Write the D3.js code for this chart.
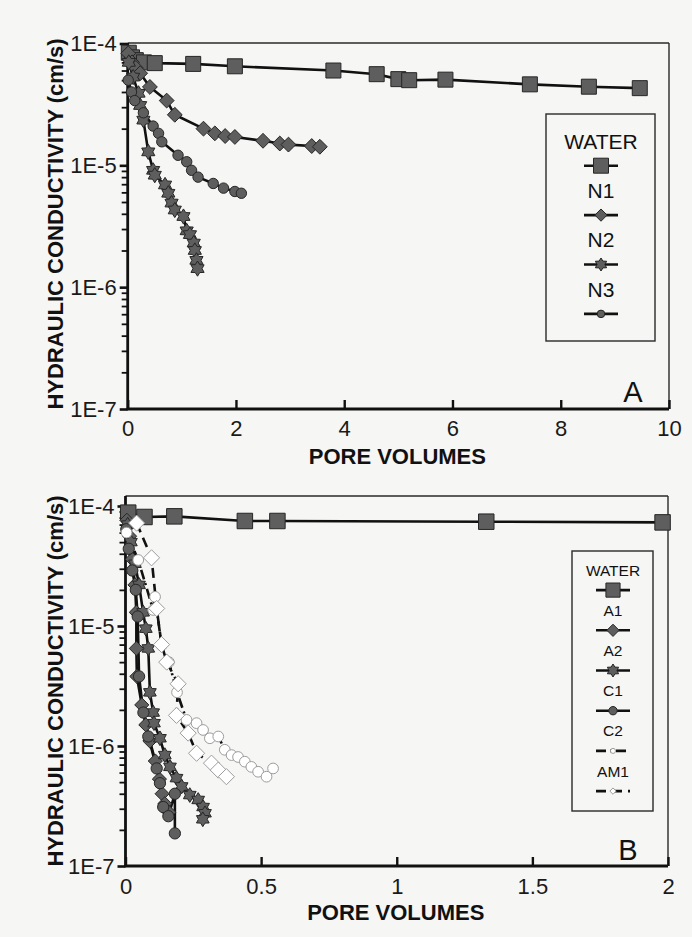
<!DOCTYPE html>
<html>
<head>
<meta charset="utf-8">
<script src="https://cdn.jsdelivr.net/npm/d3@7"></script>
<style>
  html, body { margin: 0; padding: 0; background: #f6f6f4; }
  svg { display: block; font-family: "Liberation Sans", Arial, Helvetica, sans-serif; }
</style>
</head>
<body>
<svg id="chart" width="692" height="937"></svg>
<script>
// ---- Panel A: hydraulic conductivity (cm/s) vs pore volumes ----
const waterA = [[0.02,8.4e-5],[0.08,7.7e-5],[0.15,7.3e-5],[0.3,7.0e-5],[0.5,6.9e-5],[1.21,6.8e-5],[1.98,6.5e-5],
                [3.8,6.0e-5],[4.6,5.6e-5],[5.0,5.1e-5],[5.2,5.0e-5],[5.87,5.05e-5],[7.43,4.62e-5],[8.52,4.42e-5],[9.46,4.3e-5]];
const n1A = [[0.01,8.3e-5],[0.08,7.0e-5],[0.15,6.3e-5],[0.23,5.7e-5],[0.41,4.4e-5],[0.72,3.4e-5],[0.87,2.6e-5],
             [1.40,2.0e-5],[1.61,1.83e-5],[1.80,1.74e-5],[1.98,1.71e-5],[2.50,1.59e-5],[2.81,1.51e-5],[2.97,1.48e-5],
             [3.40,1.44e-5],[3.55,1.42e-5]];
const n2A = [[0.02,7.0e-5],[0.10,5.3e-5],[0.20,3.9e-5],[0.23,3.1e-5],[0.29,2.35e-5],[0.38,1.29e-5],[0.47,9.1e-6],
             [0.50,8.3e-6],[0.69,6.9e-6],[0.75,5.9e-6],[0.81,4.9e-6],[0.87,4.3e-6],[1.03,3.8e-6],[1.09,2.9e-6],
             [1.15,2.7e-6],[1.22,2.3e-6],[1.24,2.0e-6],[1.27,1.66e-6],[1.29,1.42e-6]];
const n3A = [[0.01,5.0e-5],[0.07,4.0e-5],[0.13,3.4e-5],[0.29,2.7e-5],[0.47,2.1e-5],[0.57,1.83e-5],[0.63,1.56e-5],
             [0.93,1.21e-5],[1.09,1.07e-5],[1.18,9.1e-6],[1.30,8.0e-6],[1.58,7.1e-6],[1.77,6.5e-6],[1.98,6.1e-6],[2.10,5.9e-6]];

// ---- Panel B ----
const waterB = [[0.01,8.8e-5],[0.07,8.1e-5],[0.18,8.2e-5],[0.44,7.5e-5],[0.56,7.5e-5],[1.33,7.4e-5],[1.98,7.3e-5]];
const a1B = [[0.005,7.6e-5],[0.015,5.6e-5],[0.025,3.6e-5],[0.035,2.2e-5],[0.04,1.3e-5],[0.04,6.5e-6],[0.042,3.8e-6],
             [0.06,2.2e-6],[0.075,1.5e-6],[0.09,1.1e-6],[0.11,7.5e-7],[0.125,5.3e-7],[0.135,4.0e-7],[0.145,3.3e-7],[0.16,2.8e-7]];
const a2B = [[0.008,7.0e-5],[0.02,5.0e-5],[0.035,3.3e-5],[0.05,2.2e-5],[0.065,1.3e-5],[0.075,9.5e-6],[0.084,6.5e-6],
             [0.09,2.8e-6],[0.102,1.9e-6],[0.105,1.55e-6],[0.127,1.16e-6],[0.145,8.4e-7],[0.164,6.7e-7],[0.188,5.4e-7],
             [0.207,4.6e-7],[0.237,3.9e-7],[0.268,3.55e-7],[0.286,3.1e-7],[0.293,2.75e-7],[0.285,2.45e-7]];
const c1B = [[0.003,6.4e-5],[0.012,4.4e-5],[0.025,2.9e-5],[0.038,2.0e-5],[0.045,1.2e-5],[0.05,3.8e-6],[0.066,1.9e-6],
             [0.084,1.2e-6],[0.115,6.5e-7],[0.127,4.9e-7],[0.139,3.1e-7],[0.158,2.6e-7],[0.182,4.0e-7],[0.182,1.87e-7]];
const c2B = [[0.004,6.0e-5],[0.047,3.55e-5],[0.102,1.36e-5],[0.109,1.75e-5],[0.133,6.9e-6],[0.16,5.0e-6],[0.19,2.8e-6],
             [0.225,1.65e-6],[0.262,1.55e-6],[0.286,1.36e-6],[0.311,1.16e-6],[0.342,1.2e-6],[0.366,9.3e-7],[0.391,8.4e-7],
             [0.415,8.1e-7],[0.44,7.4e-7],[0.464,6.7e-7],[0.489,6.1e-7],[0.52,5.55e-7],[0.544,6.5e-7]];
const am1B = [[0.041,7.2e-5],[0.096,3.7e-5],[0.115,1.4e-5],[0.133,7.0e-6],[0.152,5.0e-6],[0.194,3.3e-6],[0.188,1.8e-6],
              [0.231,1.28e-6],[0.262,8.7e-7],[0.317,7.2e-7],[0.342,6.3e-7],[0.372,5.55e-7]];

// ---- Axis ticks and labels ----
const yTickValues = [1e-7, 1e-6, 1e-5, 1e-4];
const yTickLabels = ["1E-7", "1E-6", "1E-5", "1E-4"];
const xTicksA = [0, 2, 4, 6, 8, 10];
const xTicksB = [0, 0.5, 1, 1.5, 2];
const legendA = ["WATER", "N1", "N2", "N3"];
const legendB = ["WATER", "A1", "A2", "C1", "C2", "AM1"];
const yTitle = "HYDRAULIC CONDUCTIVITY (cm/s)";
const xTitle = "PORE VOLUMES";

// ---- Marker shapes ----
const diamondType = { draw(ctx, size) { const r = Math.sqrt(size / 2);
  ctx.moveTo(0, -r); ctx.lineTo(r, 0); ctx.lineTo(0, r); ctx.lineTo(-r, 0); ctx.closePath(); } };
const starType = { draw(ctx, size) { const r = Math.sqrt(size) * 0.62, ri = r * 0.6;
  for (let i = 0; i < 12; i++) { const a = Math.PI / 6 * i - Math.PI / 2, rr = i % 2 ? ri : r;
    const px = rr * Math.cos(a), py = rr * Math.sin(a); i ? ctx.lineTo(px, py) : ctx.moveTo(px, py); }
  ctx.closePath(); } };

const DARK = { fill: "#5e5e5e", stroke: "#262626" };
const OPEN = { fill: "#ffffff", stroke: "#9c9c9c" };

const svg = d3.select("#chart");
const minorVals = [];
for (let e = -7; e < -4; e++) for (let m = 2; m <= 9; m++) minorVals.push(m * Math.pow(10, e));

function drawPanel(p) {
  const g = svg.append("g");
  const x = d3.scaleLinear().domain([0, p.xMax]).range([p.x0, p.x1]);
  const y = d3.scaleLog().domain([1e-7, 1e-4]).range([p.yBot, p.yTop]);

  // frame: heavy left/bottom axes, light top/right
  g.append("line").attr("x1", p.x0).attr("x2", p.x1).attr("y1", p.frameTop).attr("y2", p.frameTop)
    .attr("stroke", "#2a2a2a").attr("stroke-width", 1.4);
  g.append("line").attr("x1", p.x1).attr("x2", p.x1).attr("y1", p.frameTop).attr("y2", p.yBot)
    .attr("stroke", "#2a2a2a").attr("stroke-width", 1.4);

  // y axis: major + minor ticks pointing outward
  const yMajor = d3.axisLeft(y).tickValues(yTickValues)
    .tickFormat((d, i) => yTickLabels[i]).tickSizeInner(8).tickSizeOuter(0).tickPadding(3);
  const ga = g.append("g").attr("transform", `translate(${p.x0},0)`).call(yMajor);
  ga.select(".domain").remove();
  ga.selectAll(".tick line").attr("stroke", "#111").attr("stroke-width", 2.6);
  ga.selectAll(".tick text").attr("font-size", 22).attr("fill", "#1a1a1a").attr("font-family", null);
  const yMinor = d3.axisLeft(y).tickValues(minorVals).tickFormat("").tickSizeInner(6).tickSizeOuter(0);
  const gm = g.append("g").attr("transform", `translate(${p.x0},0)`).call(yMinor);
  gm.select(".domain").remove();
  gm.selectAll(".tick line").attr("stroke", "#111").attr("stroke-width", 1.8);

  // x axis: ticks pointing inward
  const xAxis = d3.axisBottom(x).tickValues(p.xTicks).tickFormat(d => String(d))
    .tickSizeInner(-9).tickSizeOuter(0).tickPadding(p.xPad);
  const gx = g.append("g").attr("transform", `translate(0,${p.yBot})`).call(xAxis);
  gx.select(".domain").remove();
  gx.selectAll(".tick line").attr("stroke", "#111").attr("stroke-width", 2.4);
  gx.selectAll(".tick text").attr("font-size", 22).attr("fill", "#1a1a1a").attr("font-family", null);

  // heavy axis lines
  g.append("line").attr("x1", p.x0).attr("x2", p.x0).attr("y1", p.frameTop).attr("y2", p.yBot + 1)
    .attr("stroke", "#111").attr("stroke-width", 2.8);
  g.append("line").attr("x1", p.x0 - 1).attr("x2", p.x1).attr("y1", p.yBot).attr("y2", p.yBot)
    .attr("stroke", "#111").attr("stroke-width", 2.8);

  // titles
  g.append("text").attr("x", (p.x0 + p.x1) / 2 - 1).attr("y", p.xTitleY).attr("text-anchor", "middle")
    .attr("font-size", 22).attr("font-weight", "bold").attr("fill", "#111").text(xTitle);
  g.append("text").attr("transform", `translate(63,${p.yTitleY}) rotate(-90)`).attr("text-anchor", "middle")
    .attr("font-size", 22).attr("font-weight", "bold").attr("fill", "#111").text(yTitle);
  g.append("text").attr("x", p.tagX).attr("y", p.tagY).attr("text-anchor", "middle")
    .attr("font-size", 29).attr("fill", "#111").text(p.tag);

  // series lines then markers
  const line = d3.line().x(d => x(d[0])).y(d => y(d[1]));
  p.series.forEach(s => {
    g.append("path").datum(s.data).attr("d", line).attr("fill", "none")
      .attr("stroke", "#111").attr("stroke-width", s.lw || 2.6)
      .attr("stroke-dasharray", s.dash || null).attr("stroke-linejoin", "round");
  });
  p.series.forEach(s => {
    const sym = d3.symbol().type(s.type).size(s.size);
    g.append("g").selectAll("path").data(s.data).join("path")
      .attr("transform", d => `translate(${x(d[0])},${y(d[1])})`)
      .attr("d", sym).attr("fill", s.style.fill).attr("stroke", s.style.stroke).attr("stroke-width", 1);
  });

  // legend: label line, then a line-and-marker sample underneath
  const L = p.legend;
  g.append("rect").attr("x", L.x).attr("y", L.y).attr("width", L.w).attr("height", L.h)
    .attr("fill", "none").attr("stroke", "#2a2a2a").attr("stroke-width", 1.4);
  p.series.forEach((s, i) => {
    const ty = L.first + i * 2 * L.step, sy = ty + L.step;
    g.append("text").attr("x", L.cx).attr("y", ty).attr("dy", "0.36em").attr("text-anchor", "middle")
      .attr("font-size", L.font).attr("fill", "#111").text(L.labels[i]);
    g.append("line").attr("x1", L.cx - L.half).attr("x2", L.cx + L.half).attr("y1", sy).attr("y2", sy)
      .attr("stroke", "#111").attr("stroke-width", 2.6).attr("stroke-dasharray", s.dash || null);
    g.append("path").attr("transform", `translate(${L.cx},${sy})`)
      .attr("d", d3.symbol().type(s.type).size(s.legSize)())
      .attr("fill", s.style.fill).attr("stroke", s.style.stroke).attr("stroke-width", 1);
  });
}

drawPanel({
  x0: 127.7, x1: 669, yTop: 43.5, yBot: 409, frameTop: 43, xMax: 10, xTicks: xTicksA, xPad: 11,
  xTitleY: 464, yTitleY: 224, tag: "A", tagX: 633, tagY: 402,
  series: [
    { data: waterA, type: d3.symbolSquare, size: 225, legSize: 225, style: DARK },
    { data: n1A, type: diamondType, size: 110, legSize: 75, style: DARK },
    { data: n2A, type: starType, size: 150, legSize: 110, style: DARK },
    { data: n3A, type: d3.symbolCircle, size: 85, legSize: 45, style: DARK }
  ],
  legend: { x: 546, y: 114, w: 109, h: 227, cx: 601, first: 141, step: 24.7, half: 17, font: 21, labels: legendA }
});

drawPanel({
  x0: 125.5, x1: 668, yTop: 506, yBot: 866, frameTop: 496, xMax: 2, xTicks: xTicksB, xPad: 12,
  xTitleY: 920, yTitleY: 681, tag: "B", tagX: 628, tagY: 860,
  series: [
    { data: waterB, type: d3.symbolSquare, size: 240, legSize: 200, style: DARK },
    { data: a1B, type: diamondType, size: 100, legSize: 75, style: DARK },
    { data: a2B, type: starType, size: 140, legSize: 110, style: DARK },
    { data: c1B, type: d3.symbolCircle, size: 100, legSize: 55, style: DARK },
    { data: c2B, type: d3.symbolCircle, size: 90, legSize: 20, style: OPEN, dash: "10,4,2,4" },
    { data: am1B, type: diamondType, size: 130, legSize: 20, style: OPEN, dash: "10,6" }
  ],
  legend: { x: 572, y: 551, w: 81, h: 260, cx: 613, first: 570, step: 20.1, half: 17, font: 15.5, labels: legendB }
});
</script>
</body>
</html>
